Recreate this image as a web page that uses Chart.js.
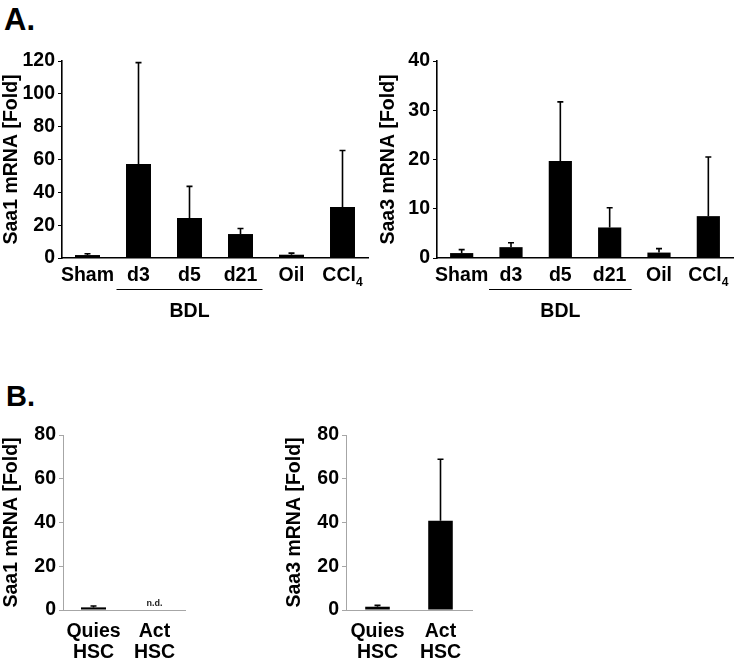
<!DOCTYPE html>
<html><head><meta charset="utf-8">
<script src="https://cdn.jsdelivr.net/npm/chart.js@4.4.0/dist/chart.umd.min.js"></script>
<style>
body{margin:0;background:#fff;width:738px;height:661px;overflow:hidden;position:relative;font-family:"Liberation Sans",Arial,sans-serif;}
.panel{position:absolute;font-weight:bold;color:#000;line-height:1;}
.box{position:absolute;}
canvas{display:block;}
</style></head><body>
<div class="panel" style="left:4px;top:4px;font-size:31px">A.</div>
<div class="panel" style="left:6px;top:382px;font-size:29px">B.</div>
<div class="box" style="left:0;top:0"><canvas id="c1" width="370" height="330"></canvas></div>
<div class="box" style="left:370px;top:0"><canvas id="c2" width="368" height="330"></canvas></div>
<div class="box" style="left:0;top:330px"><canvas id="c3" width="270" height="331"></canvas></div>
<div class="box" style="left:270px;top:330px"><canvas id="c4" width="250" height="331"></canvas></div>
<script>
// ---- data ----
const liverCategories = ['Sham', 'd3', 'd5', 'd21', 'Oil', 'CCl₄'];
const saa1Liver    = [1.8, 57.2, 24.3, 14.6, 2.0, 31.0];
const saa1LiverErr = [0.8, 61.8, 19.3, 3.4, 1.0, 34.5];
const saa3Liver    = [1.0, 2.2, 19.7, 6.2, 1.1, 8.5];
const saa3LiverErr = [0.7, 0.9, 12.0, 4.0, 0.8, 12.0];
const liverGroup = {from: 1, to: 3, label: 'BDL'};

const hscCategories = [['Quies', 'HSC'], ['Act', 'HSC']];
const saa1HSC    = [1.2, null];
const saa1HSCErr = [0.6, null];
const saa1HSCNotes = ['', 'n.d.'];
const saa3HSC    = [1.5, 40.8];
const saa3HSCErr = [0.6, 28.1];
const saa3HSCNotes = ['', ''];

const ticksSaa1Liver = [0, 20, 40, 60, 80, 100, 120];
const ticksSaa3Liver = [0, 10, 20, 30, 40];
const ticksHSC = [0, 20, 40, 60, 80];

const F = '"Liberation Sans", Arial, sans-serif';
const FS = 19.5;
const SUB = {'₀':'0','₁':'1','₂':'2','₃':'3','₄':'4','₅':'5','₆':'6','₇':'7','₈':'8','₉':'9'};

function drawSubText(ctx, text, cx, y, size) {
  const parts = [];
  for (const ch of text) {
    const sub = SUB[ch] !== undefined;
    const c = sub ? SUB[ch] : ch;
    if (parts.length && parts[parts.length-1].sub === sub) parts[parts.length-1].t += c;
    else parts.push({t: c, sub});
  }
  let total = 0;
  parts.forEach(p => {
    ctx.font = 'bold ' + (p.sub ? size * 0.62 : size) + 'px ' + F;
    p.w = ctx.measureText(p.t).width; total += p.w;
  });
  let x = cx - total / 2;
  ctx.textAlign = 'left';
  parts.forEach(p => {
    ctx.font = 'bold ' + (p.sub ? size * 0.62 : size) + 'px ' + F;
    ctx.fillText(p.t, x, p.sub ? y + size * 0.28 : y);
    x += p.w;
  });
}

const xLabelPlugin = {
  id: 'xlab',
  afterDraw(chart, args, o) {
    const ctx = chart.ctx, xs = chart.scales.x;
    ctx.save();
    ctx.fillStyle = '#000';
    ctx.textBaseline = 'alphabetic';
    chart.data.labels.forEach((lab, i) => {
      const x = xs.getPixelForValue(i);
      const lines = Array.isArray(lab) ? lab : [lab];
      lines.forEach((ln, j) => drawSubText(ctx, ln, x, o.y + j * o.lh, FS));
    });
    if (o.group) {
      const g = o.group;
      const x1 = xs.getPixelForValue(g.from) - 22, x2 = xs.getPixelForValue(g.to) + 22;
      ctx.strokeStyle = '#000'; ctx.lineWidth = 1;
      ctx.beginPath(); ctx.moveTo(x1, o.gy + 0.5); ctx.lineTo(x2, o.gy + 0.5); ctx.stroke();
      drawSubText(ctx, g.label, (x1 + x2) / 2, o.gly, FS);
    }
    ctx.restore();
  }
};

const errPlugin = {
  id: 'err',
  afterDatasetsDraw(chart, args, o) {
    const ctx = chart.ctx, ys = chart.scales.y;
    const ds = chart.data.datasets[0], meta = chart.getDatasetMeta(0);
    ctx.save();
    ctx.strokeStyle = '#000'; ctx.lineWidth = 1.6;
    meta.data.forEach((bar, i) => {
      const v = ds.data[i], e = o.errors[i];
      if (v == null || e == null) return;
      const y0 = ys.getPixelForValue(v), y1 = ys.getPixelForValue(v + e);
      ctx.beginPath();
      ctx.moveTo(bar.x, y0); ctx.lineTo(bar.x, y1);
      ctx.moveTo(bar.x - 3, y1); ctx.lineTo(bar.x + 3, y1);
      ctx.stroke();
    });
    if (o.notes) {
      ctx.fillStyle = '#222';
      ctx.font = 'bold 9px ' + F;
      ctx.textAlign = 'center';
      const xs = chart.scales.x;
      o.notes.forEach((n, i) => {
        if (n) ctx.fillText(n, xs.getPixelForValue(i), ys.getPixelForValue(0) - 4);
      });
    }
    ctx.restore();
  }
};

function makeChart(id, labels, values, errors, ticks, o) {
  return new Chart(document.getElementById(id), {
    type: 'bar',
    data: {labels, datasets: [{data: values, backgroundColor: '#000', borderWidth: 0,
      categoryPercentage: 1, barPercentage: o.barPct}]},
    options: {
      responsive: false, animation: false,
      layout: {padding: o.padding},
      plugins: {legend: {display: false}, tooltip: {enabled: false},
        err: {errors, notes: o.notes},
        xlab: {y: o.labelY, lh: 21, group: o.group, gy: o.gy, gly: o.gly}},
      scales: {
        x: {
          offset: true,
          grid: {display: false},
          border: {display: true, color: o.axis, width: o.bw},
          ticks: {display: false},
          afterFit: s => { s.height = o.xHeight; }
        },
        y: {
          min: ticks[0], max: ticks[ticks.length - 1],
          afterBuildTicks: s => { s.ticks = ticks.map(v => ({value: v})); },
          afterFit: s => { s.width = o.yWidth; },
          grid: {display: true, drawOnChartArea: false, drawTicks: true, tickLength: 4, color: o.axis, lineWidth: 1},
          border: {display: true, color: o.axis, width: o.bw},
          ticks: {color: '#000', font: {family: F, size: FS, weight: 'bold'}, padding: 3},
          title: {display: true, text: o.yTitle, color: '#000',
            font: {family: F, size: FS, weight: 'bold'}, padding: {top: o.titlePad, bottom: 0}}
        }
      }
    },
    plugins: [errPlugin, xLabelPlugin]
  });
}

makeChart('c1', liverCategories, saa1Liver, saa1LiverErr, ticksSaa1Liver, {
  yTitle: 'Saa1 mRNA [Fold]', padding: {left: 0, top: 61, right: 2, bottom: 0},
  yWidth: 62, xHeight: 72, axis: '#000', bw: 1.6, barPct: 0.49, titlePad: 0,
  labelY: 281, group: liverGroup, gy: 289, gly: 317});
makeChart('c2', liverCategories, saa3Liver, saa3LiverErr, ticksSaa3Liver, {
  yTitle: 'Saa3 mRNA [Fold]', padding: {left: 0, top: 61, right: 5, bottom: 0},
  yWidth: 67, xHeight: 72, axis: '#000', bw: 1.6, barPct: 0.47, titlePad: 7,
  labelY: 281, group: liverGroup, gy: 289, gly: 317});
makeChart('c3', hscCategories, saa1HSC, saa1HSCErr, ticksHSC, {
  yTitle: 'Saa1 mRNA [Fold]', padding: {left: 0, top: 105, right: 85, bottom: 0},
  yWidth: 63, xHeight: 51, axis: '#a6a6a6', bw: 1, barPct: 0.41, titlePad: 0,
  labelY: 307, notes: saa1HSCNotes});
makeChart('c4', hscCategories, saa3HSC, saa3HSCErr, ticksHSC, {
  yTitle: 'Saa3 mRNA [Fold]', padding: {left: 0, top: 105, right: 48, bottom: 0},
  yWidth: 76, xHeight: 51, axis: '#a6a6a6', bw: 1, barPct: 0.39, titlePad: 13,
  labelY: 307, notes: saa3HSCNotes});
</script>
</body></html>
